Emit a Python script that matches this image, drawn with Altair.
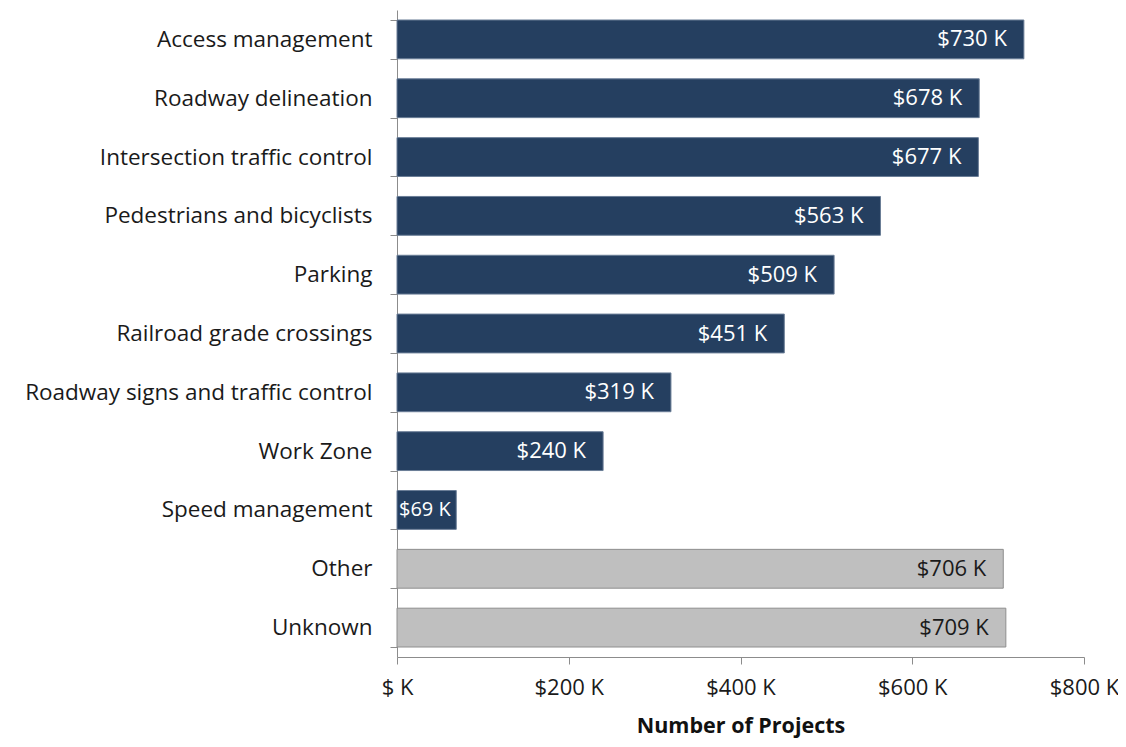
import altair as alt
import pandas as pd

categories = ["Access management", "Roadway delineation", "Intersection traffic control",
              "Pedestrians and bicyclists", "Parking", "Railroad grade crossings",
              "Roadway signs and traffic control", "Work Zone", "Speed management",
              "Other", "Unknown"]
values = [730, 678, 677, 563, 509, 451, 319, 240, 69, 706, 709]
groups = ["main"] * 9 + ["other"] * 2
x_ticks = [0, 200, 400, 600, 800]

df = pd.DataFrame({"cat": categories, "val": values, "grp": groups})
df["label"] = ["$" + str(v) + " K" for v in values]

FONT = "Open Sans"
y_enc = alt.Y("cat:N", sort=categories, title=None,
              scale=alt.Scale(paddingInner=0.34, paddingOuter=0.17),
              axis=alt.Axis(tickBand="extent", labelFontSize=22.5, labelFont=FONT,
                            labelColor="#1a1a1a", labelPadding=18, tickSize=7,
                            domainColor="#8c8c8c", tickColor="#8c8c8c", labelLimit=500))
x_enc = alt.X("val:Q", title="Number of Projects",
              scale=alt.Scale(domain=[0, 800], nice=False),
              axis=alt.Axis(values=x_ticks, labelExpr="datum.value == 0 ? '$ K' : '$' + datum.value + ' K'",
                            grid=False, tickSize=7, labelPadding=13, labelFontSize=22,
                            labelFont=FONT, labelColor="#1a1a1a", labelFlush=False,
                            domainColor="#8c8c8c", tickColor="#8c8c8c",
                            titleFont=FONT, titleFontSize=21.5, titleFontWeight="bold",
                            titleColor="#111111", titlePadding=17))

base = alt.Chart(df)
bars = base.mark_bar(strokeWidth=1).encode(
    y=y_enc, x=x_enc,
    color=alt.Color("grp:N", scale=alt.Scale(domain=["main", "other"], range=["#253F60", "#BFBFBF"]), legend=None),
    stroke=alt.Stroke("grp:N", scale=alt.Scale(domain=["main", "other"], range=["#6a7d96", "#8e8e8e"]), legend=None),
)
text_color = alt.Color("grp:N", scale=alt.Scale(domain=["main", "other"], range=["#ffffff", "#1a1a1a"]), legend=None)
labels_big = base.transform_filter("datum.val >= 100").mark_text(
    align="right", baseline="middle", dx=-17, fontSize=22, font=FONT).encode(
    y=alt.Y("cat:N", sort=categories), x="val:Q", text="label:N", color=text_color)
labels_small = base.transform_filter("datum.val < 100").mark_text(
    align="left", baseline="middle", dx=2, fontSize=20, font=FONT).encode(
    y=alt.Y("cat:N", sort=categories), x=alt.value(0), text="label:N", color=text_color)

chart = alt.layer(bars, labels_big, labels_small).resolve_scale(color="independent").properties(
    width=687, height=647,
    autosize=alt.AutoSizeParams(type="none"),
    padding={"left": 389, "top": 2, "right": 34, "bottom": 82},
).configure_view(stroke=None)

chart.save("out.html", embed_options={"renderer": "svg", "actions": False})
